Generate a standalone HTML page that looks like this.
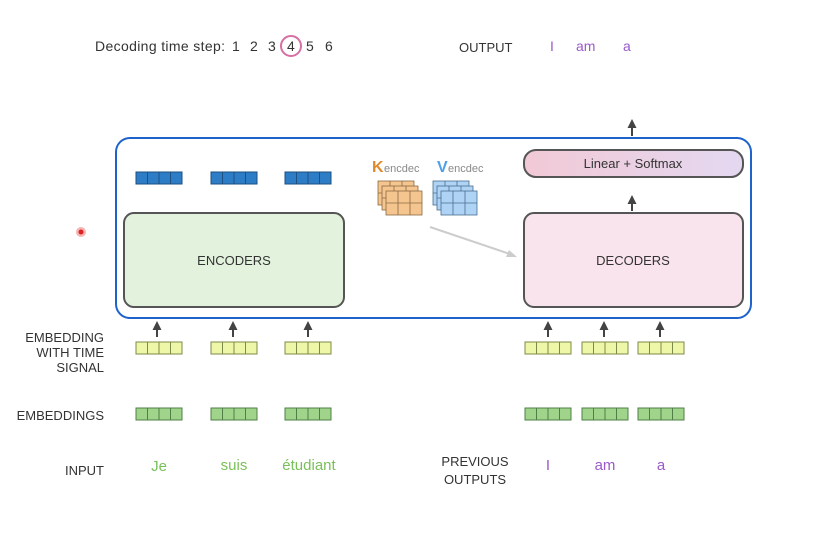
<!DOCTYPE html>
<html><head><meta charset="utf-8"><style>
body{margin:0;background:#fff;width:816px;height:531px;overflow:hidden}
svg text{font-family:"Liberation Sans",sans-serif}
</style></head><body>
<svg width="816" height="531" viewBox="0 0 816 531" xmlns="http://www.w3.org/2000/svg">
<defs>
<linearGradient id="ls" x1="0" x2="1"><stop offset="0" stop-color="#f2c9d6"/><stop offset="1" stop-color="#e4d8f1"/></linearGradient>
<g id="vec4"><rect x="0" y="0" width="46" height="12" stroke-width="1"/><line x1="11.5" y1="0" x2="11.5" y2="12"/><line x1="23" y1="0" x2="23" y2="12"/><line x1="34.5" y1="0" x2="34.5" y2="12"/></g>
<g id="mat"><rect x="0" y="0" width="36" height="24"/><line x1="12" y1="0" x2="12" y2="24"/><line x1="24" y1="0" x2="24" y2="24"/><line x1="0" y1="12" x2="36" y2="12"/></g>
<marker id="ah" markerUnits="userSpaceOnUse" markerWidth="9" markerHeight="9" refX="1" refY="4.5" orient="auto"><path d="M0,0 L9,4.5 L0,9z" fill="#444"/></marker>
</defs>
<g font-size="14" fill="#333">
<text x="95" y="51" textLength="130">Decoding time step:</text>
<text x="232" y="51">1</text><text x="250" y="51">2</text><text x="268" y="51">3</text>
<text x="287" y="51">4</text><text x="306" y="51">5</text><text x="325" y="51">6</text></g>
<circle cx="291" cy="46" r="10" fill="none" stroke="#d66fa3" stroke-width="2"/>
<text x="459" y="52" font-size="13" fill="#333">OUTPUT</text>
<text x="550" y="51" font-size="14" fill="#9b59c9">I</text>
<text x="576" y="51" font-size="14" fill="#9b59c9">am</text>
<text x="623" y="51" font-size="14" fill="#9b59c9">a</text>
<circle cx="81" cy="232" r="5" fill="#f5b5b5"/><circle cx="81" cy="232" r="2.5" fill="#d22"/>
<rect x="116" y="138" width="635" height="180" rx="14" fill="none" stroke="#1e63c9" stroke-width="2"/>
<g fill="#2d7dc6" stroke="#1d4f80">
<use href="#vec4" x="136" y="172"/><use href="#vec4" x="211" y="172"/><use href="#vec4" x="285" y="172"/></g>
<rect x="124" y="213" width="220" height="94" rx="10" fill="#e2f2dd" stroke="#555" stroke-width="2"/>
<text x="234" y="265" font-size="13" fill="#333" text-anchor="middle">ENCODERS</text>
<rect x="524" y="213" width="219" height="94" rx="10" fill="#f9e3ec" stroke="#555" stroke-width="2"/>
<text x="633" y="265" font-size="13" fill="#333" text-anchor="middle">DECODERS</text>
<rect x="524" y="150" width="219" height="27" rx="12" fill="url(#ls)" stroke="#555" stroke-width="2"/>
<text x="633" y="168" font-size="13" fill="#333" text-anchor="middle">Linear + Softmax</text>
<text x="372" y="172" font-size="16" fill="#e08a2e" font-weight="bold">K</text><text x="384" y="172" font-size="11" fill="#888">encdec</text>
<text x="437" y="172" font-size="16" fill="#4ea0e6" font-weight="bold">V</text><text x="448" y="172" font-size="11" fill="#888">encdec</text>
<g fill="#f5c58f" stroke="#8a6a40" stroke-width="0.8">
<use href="#mat" x="378" y="181"/><use href="#mat" x="382" y="186"/><use href="#mat" x="386" y="191"/></g>
<g fill="#aed3f4" stroke="#4a6f90" stroke-width="0.8">
<use href="#mat" x="433" y="181"/><use href="#mat" x="437" y="186"/><use href="#mat" x="441" y="191"/></g>
<line x1="430" y1="227" x2="510" y2="254" stroke="#ccc" stroke-width="2"/>
<path d="M517,257 L506,257 L509,250z" fill="#ccc"/>
<g stroke="#444" stroke-width="2" marker-end="url(#ah)">
<line x1="157" y1="337" x2="157" y2="329"/><line x1="233" y1="337" x2="233" y2="329"/><line x1="308" y1="337" x2="308" y2="329"/>
<line x1="548" y1="337" x2="548" y2="329"/><line x1="604" y1="337" x2="604" y2="329"/><line x1="660" y1="337" x2="660" y2="329"/>
<line x1="632" y1="211" x2="632" y2="203"/><line x1="632" y1="136" x2="632" y2="127"/>
</g>
<g font-size="13" fill="#333" text-anchor="end">
<text x="104" y="342">EMBEDDING</text><text x="104" y="357">WITH TIME</text><text x="104" y="372">SIGNAL</text>
<text x="104" y="420">EMBEDDINGS</text><text x="104" y="475">INPUT</text></g>
<text x="475" y="466" font-size="13" fill="#333" text-anchor="middle">PREVIOUS</text>
<text x="475" y="484" font-size="13" fill="#333" text-anchor="middle">OUTPUTS</text>
<g fill="#eef6a8" stroke="#7d8a4a">
<use href="#vec4" x="136" y="342"/><use href="#vec4" x="211" y="342"/><use href="#vec4" x="285" y="342"/>
<use href="#vec4" x="525" y="342"/><use href="#vec4" x="582" y="342"/><use href="#vec4" x="638" y="342"/></g>
<g fill="#9fd48a" stroke="#4f7f45">
<use href="#vec4" x="136" y="408"/><use href="#vec4" x="211" y="408"/><use href="#vec4" x="285" y="408"/>
<use href="#vec4" x="525" y="408"/><use href="#vec4" x="582" y="408"/><use href="#vec4" x="638" y="408"/></g>
<g font-size="15" fill="#7ac05a" text-anchor="middle">
<text x="159" y="471">Je</text><text x="234" y="470">suis</text><text x="309" y="470">étudiant</text></g>
<g font-size="15" fill="#9b59c9" text-anchor="middle">
<text x="548" y="470">I</text><text x="605" y="470">am</text><text x="661" y="470">a</text></g>
</svg>
</body></html>
